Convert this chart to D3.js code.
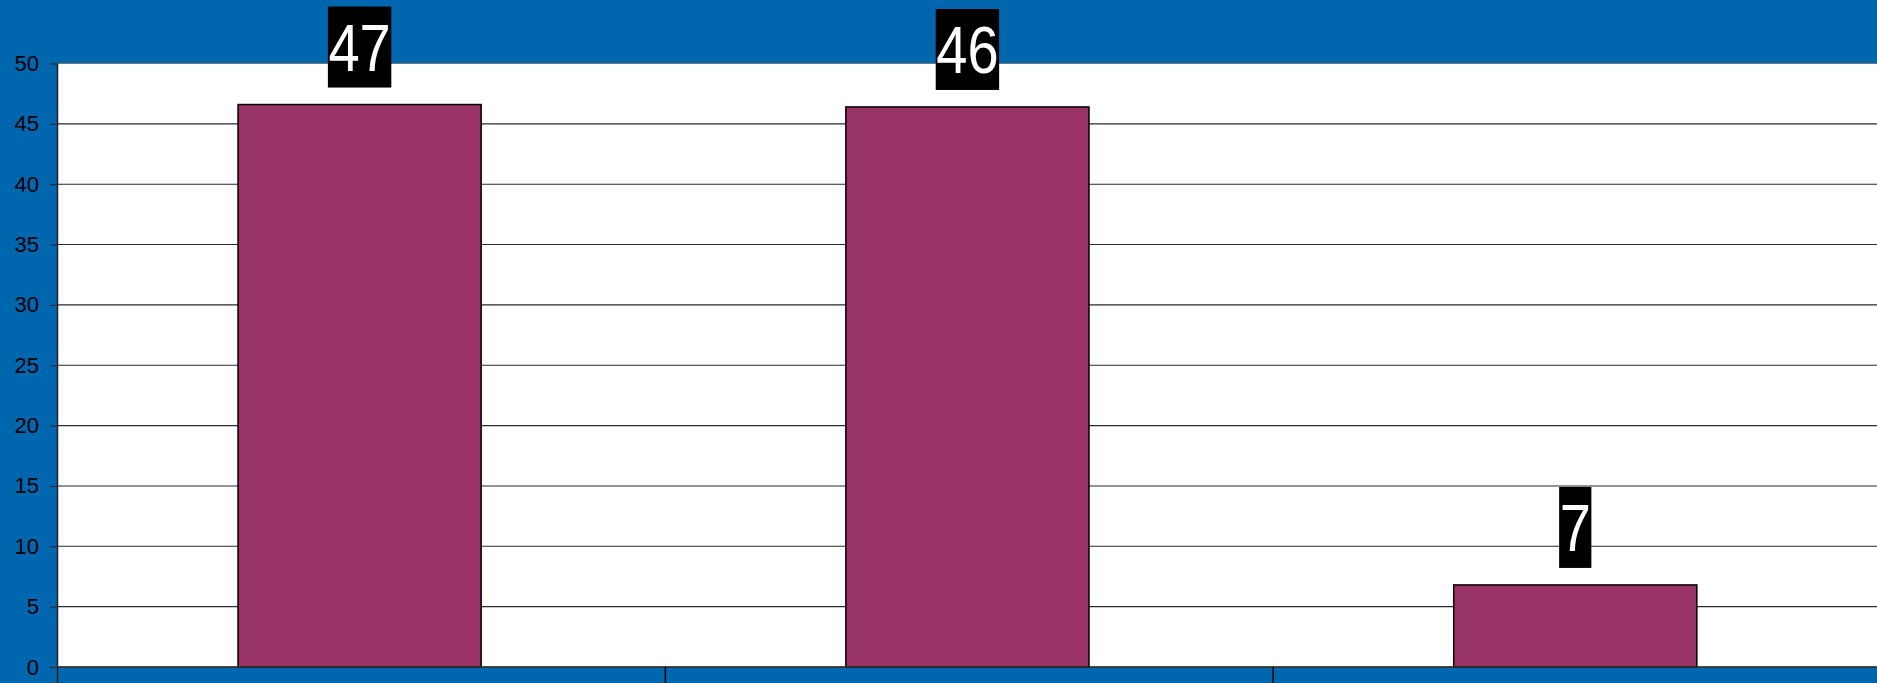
<!DOCTYPE html>
<html>
<head>
<meta charset="utf-8">
<script src="https://cdn.jsdelivr.net/npm/d3@7"></script>
<style>
  body { margin: 0; background: #0066ae; }
  .axis text { font-family: "Liberation Sans", Arial, sans-serif; font-size: 22px; fill: #000; }
</style>
</head>
<body>
<div id="chart"></div>
<script>
// chart data
var categories = ["Group 1", "Group 2", "Group 3"];
var values = [46.6, 46.4, 6.8];
var yTicks = [0, 5, 10, 15, 20, 25, 30, 35, 40, 45, 50];

// dimensions (plot area runs a few px past the right edge)
var margin = {top: 63.5, right: -4, bottom: 16, left: 57.5},
    width = 1877 - margin.left - margin.right,
    height = 683 - margin.top - margin.bottom;

var svg = d3.select("#chart")
  .append("svg")
    .attr("width", 1877)
    .attr("height", 683)
    .style("display", "block");

svg.append("rect")
  .attr("width", 1877)
  .attr("height", 683)
  .attr("fill", "#0066ae");

var g = svg.append("g")
  .attr("transform", "translate(" + margin.left + "," + margin.top + ")");

var x = d3.scaleBand()
  .domain(categories)
  .range([0, width]);

var y = d3.scaleLinear()
  .domain([0, 50])
  .range([height, 0]);

// plot area
g.append("rect")
  .attr("width", width)
  .attr("height", height)
  .attr("fill", "#fff");

// gridlines
g.append("g")
  .selectAll("line")
  .data(yTicks)
  .enter()
  .append("line")
    .attr("x1", 0)
    .attr("x2", width)
    .attr("y1", function(d) { return y(d); })
    .attr("y2", function(d) { return y(d); })
    .attr("stroke", function(d) { return d == 50 ? "#777" : "#2a2a2a"; })
    .attr("stroke-width", 1.1);

// bars
var barW = x.bandwidth() * 0.4;
var barOff = x.bandwidth() * 0.297;
g.selectAll(".bar")
  .data(values)
  .enter()
  .append("rect")
    .attr("class", "bar")
    .attr("x", function(d, i) { return x(categories[i]) + barOff; })
    .attr("y", function(d) { return y(d); })
    .attr("width", barW)
    .attr("height", function(d) { return height - y(d); })
    .attr("fill", "#993366")
    .attr("stroke", "#000")
    .attr("stroke-width", 1.5);

// y axis
var yAxis = g.append("g")
  .attr("class", "axis")
  .call(d3.axisLeft(y).tickValues(yTicks).tickSize(7.5).tickPadding(11));
yAxis.select(".domain").remove();
yAxis.selectAll(".tick line").attr("stroke", "#222");

// left axis line, runs down into the blue band
g.append("line")
  .attr("x1", 0).attr("x2", 0)
  .attr("y1", 0).attr("y2", height + margin.bottom)
  .attr("stroke", "#222").attr("stroke-width", 1.5);

// x axis line and category ticks
g.append("line")
  .attr("x1", 0).attr("x2", width)
  .attr("y1", height).attr("y2", height)
  .attr("stroke", "#333").attr("stroke-width", 1.5);

g.selectAll(".xtick")
  .data(categories.slice(1))
  .enter()
  .append("line")
    .attr("class", "xtick")
    .attr("x1", function(d) { return x(d); })
    .attr("x2", function(d) { return x(d); })
    .attr("y1", height)
    .attr("y2", height + margin.bottom)
    .attr("stroke", "#000")
    .attr("stroke-width", 1.5);

// value labels: black boxes with white digits
var fmt = d3.format(".0f");
var sx = 0.85;
var labels = g.selectAll(".lbl")
  .data(values)
  .enter()
  .append("g")
    .attr("class", "lbl")
    .attr("transform", function(d, i) {
      var cx = x(categories[i]) + barOff + barW / 2;
      var cy = y(d) - 17 - 40.5;
      return "translate(" + cx + "," + cy + ")";
    });

labels.each(function(d) {
  var lg = d3.select(this);
  var box = lg.append("rect").attr("fill", "#000");
  var t = lg.append("text")
    .attr("text-anchor", "middle")
    .attr("transform", "scale(" + sx + ",1)")
    .attr("y", 24)
    .attr("fill", "#fff")
    .style("font-family", "'Liberation Sans', Arial, sans-serif")
    .style("font-size", "66px")
    .text(fmt(d));
  var w = t.node().getBBox().width * sx + 1;
  box.attr("x", -w / 2).attr("y", -40.5).attr("width", w).attr("height", 81);
});
</script>
</body>
</html>
